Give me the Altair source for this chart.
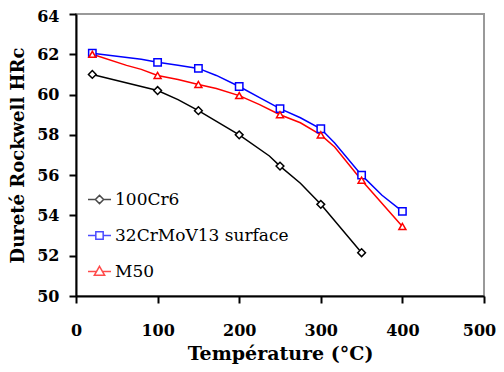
import altair as alt
import pandas as pd

series_names = ["100Cr6", "32CrMoV13 surface", "M50"]
series_colors = ["#000000", "#0000ff", "#ff0000"]
marker_shapes = ["diamond", "square", "triangle-up"]
marker_sizes = [60, 49, 90]

# custom legend symbols: short line with hollow marker in the middle
legend_paths = [
    "M-1,0L-0.36,0M0.36,0L1,0M0,-0.36L0.36,0L0,0.36L-0.36,0Z",
    "M-1,0L-0.32,0M0.32,0L1,0M-0.32,-0.32L0.32,-0.32L0.32,0.32L-0.32,0.32Z",
    "M-1,0L-0.26,0M0.26,0L1,0M0,-0.45L0.45,0.33L-0.45,0.33Z",
]

# curve points (temperature in °C, hardness HRc)
temp_100cr6 = [20, 100, 125, 150, 200, 237, 250, 275, 300, 350]
hrc_100cr6 = [61.0, 60.2, 59.75, 59.2, 58.0, 56.95, 56.45, 55.6, 54.55, 52.15]

temp_32crmov13 = [20, 80, 100, 125, 150, 172, 200, 225, 250, 275, 300, 317, 350, 375, 400]
hrc_32crmov13 = [62.05, 61.75, 61.6, 61.45, 61.3, 60.95, 60.4, 59.85, 59.3, 58.85, 58.3, 57.6, 56.0, 55.0, 54.2]

temp_m50 = [20, 62, 80, 100, 125, 150, 172, 200, 225, 250, 275, 300, 317, 350, 400]
hrc_m50 = [62.0, 61.45, 61.25, 60.95, 60.75, 60.5, 60.3, 59.95, 59.5, 59.0, 58.6, 58.0, 57.4, 55.75, 53.45]

marker_temps = [20, 100, 150, 200, 250, 300, 350, 400]

x_ticks = [0, 100, 200, 300, 400, 500]
y_ticks = [50, 52, 54, 56, 58, 60, 62, 64]

rows = []
for name, ts, vs in [
    (series_names[0], temp_100cr6, hrc_100cr6),
    (series_names[1], temp_32crmov13, hrc_32crmov13),
    (series_names[2], temp_m50, hrc_m50),
]:
    for t, v in zip(ts, vs):
        rows.append({"series": name, "temp": t, "hrc": v, "marker": t in marker_temps})
df = pd.DataFrame(rows)

FONT = "DejaVu Serif"

x_enc = alt.X(
    "temp:Q",
    scale=alt.Scale(domain=[0, 500], nice=False),
    axis=alt.Axis(
        values=x_ticks, title="Température (°C)", labelPadding=19, titlePadding=6,
        labelFlush=False,
        labelOffset={"condition": {"test": "datum.value == 500", "value": -5}, "value": 0},
    ),
)
y_enc = alt.Y(
    "hrc:Q",
    scale=alt.Scale(domain=[50, 64], nice=False, zero=False),
    axis=alt.Axis(
        values=y_ticks, title="Dureté Rockwell HRc", labelPadding=10, titlePadding=9,
        titleFontSize=18, labelFlush=False,
        labelOffset={"condition": {"test": "datum.value == 64", "value": 2}, "value": 0},
    ),
)

base = alt.Chart(df)

lines = base.mark_line(strokeWidth=1.5).encode(
    x=x_enc,
    y=y_enc,
    color=alt.Color("series:N", scale=alt.Scale(domain=series_names, range=series_colors), legend=None),
    detail="series:N",
)

points = base.transform_filter("datum.marker").mark_point(
    filled=True, fill="white", strokeWidth=1.5, opacity=1
).encode(
    x=x_enc,
    y=y_enc,
    stroke=alt.Stroke("series:N", scale=alt.Scale(domain=series_names, range=series_colors), legend=None),
    shape=alt.Shape("series:N", scale=alt.Scale(domain=series_names, range=marker_shapes), legend=None),
    size=alt.Size("series:N", scale=alt.Scale(domain=series_names, range=marker_sizes), legend=None),
)

legend_def = dict(
    orient="none",
    legendX=11,
    legendY=173,
    title=None,
    symbolSize=529,
    symbolStrokeWidth=1.5,
    symbolFillColor="white",
    labelFont=FONT,
    labelFontSize=17,
    labelFontWeight="normal",
    labelColor="#000000",
    labelLimit=400,
    labelOffset=3,
    rowPadding=15,
    padding=0,
)

legend_layer = base.transform_filter("datum.temp < 0").mark_point(
    filled=False, strokeWidth=1.5
).encode(
    x=x_enc,
    y=y_enc,
    stroke=alt.Stroke("series:N", scale=alt.Scale(domain=series_names, range=series_colors),
                      legend=alt.Legend(**legend_def)),
    shape=alt.Shape("series:N", scale=alt.Scale(domain=series_names, range=legend_paths),
                    legend=alt.Legend(**legend_def)),
)

chart = (
    alt.layer(lines, points, legend_layer)
    .resolve_scale(stroke="independent", shape="independent")
    .properties(
        width=408,
        height=282,
        autosize=alt.AutoSizeParams(type="none"),
        padding={"left": 68, "top": 6, "right": 12, "bottom": 68},
    )
    .configure_view(stroke="#999999", strokeWidth=2)
    .configure_axis(
        grid=False,
        labelFont=FONT,
        labelFontWeight="bold",
        labelFontSize=16,
        labelColor="#000000",
        titleFont=FONT,
        titleFontWeight="bold",
        titleFontSize=19,
        titleColor="#000000",
        domainColor="#000000",
        domainWidth=2,
        tickColor="#000000",
        tickWidth=2,
        tickSize=7,
    )
)

chart.save("out.html", embed_options={"renderer": "svg", "actions": False})
